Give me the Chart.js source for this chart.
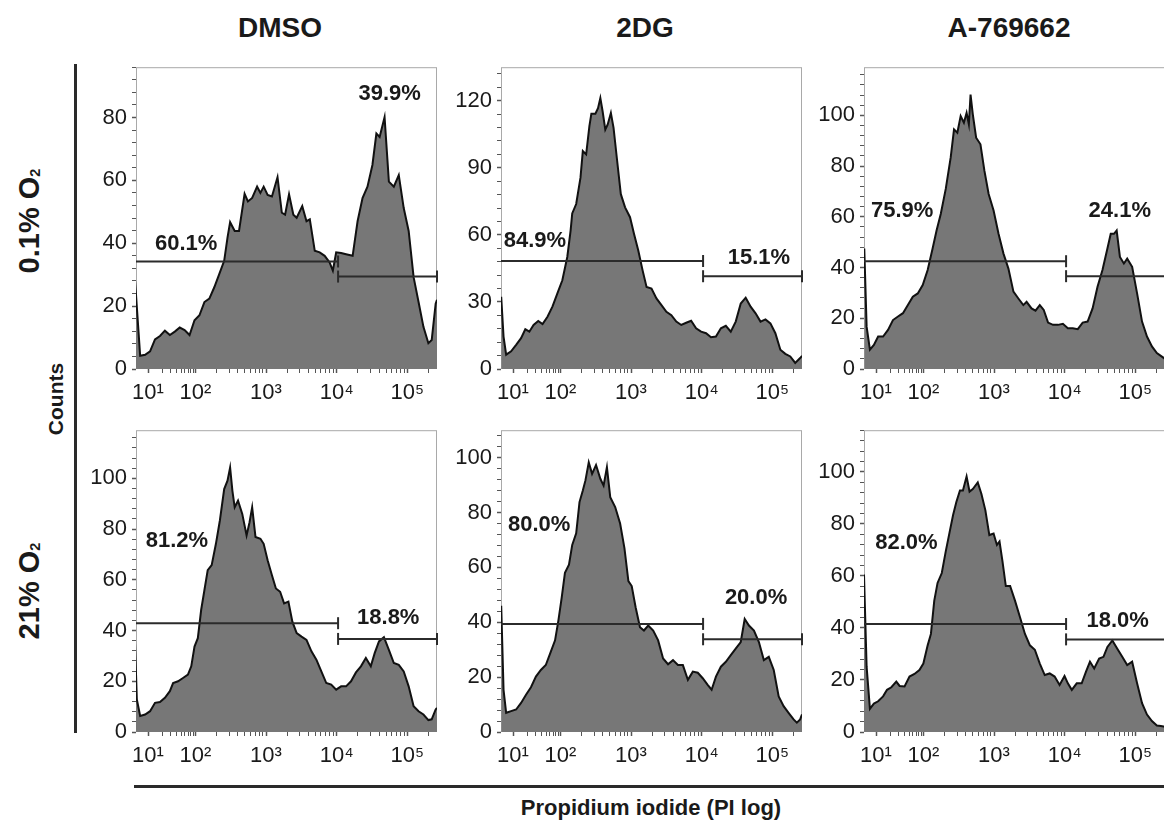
<!DOCTYPE html>
<html>
<head>
  <meta charset="utf-8">
  <title>PI histograms</title>
  <script src="https://cdn.jsdelivr.net/npm/chart.js"></script>
  <style>
    body {
      margin: 0;
      width: 1164px;
      height: 822px;
      overflow: hidden;
      position: relative;
      background: #fff;
      color: #1a1a1a;
      font-family: "Liberation Sans", Arial, sans-serif;
    }
    .panel { position: absolute; }
    .col-title {
      position: absolute;
      top: 12px;
      font-size: 28px;
      font-weight: bold;
      transform: translateX(-50%);
      white-space: nowrap;
    }
    .row-title {
      position: absolute;
      font-size: 29px;
      font-weight: bold;
      white-space: nowrap;
      transform: translate(-50%, -50%) rotate(-90deg);
    }
    .row-title sub { font-size: 50%; vertical-align: -0.1em; }
    .counts {
      position: absolute;
      left: 56px;
      top: 399px;
      font-size: 21px;
      font-weight: bold;
      transform: translate(-50%, -50%) rotate(-90deg);
    }
    .vline { position: absolute; left: 74px; top: 64px; width: 3px; height: 669px; background: #2a2a2a; }
    .hline { position: absolute; left: 134px; top: 785px; width: 1040px; height: 3px; background: #2a2a2a; }
    .x-title {
      position: absolute;
      left: 651px;
      top: 808px;
      font-size: 22px;
      font-weight: bold;
      transform: translate(-50%, -50%);
      white-space: nowrap;
    }
  </style>
</head>
<body>
  <div class="col-title" style="left:280px">DMSO</div>
  <div class="col-title" style="left:645px">2DG</div>
  <div class="col-title" style="left:1009px">A-769662</div>

  <div class="row-title" style="left:29px; top:221px">0.1% O<sub>2</sub></div>
  <div class="row-title" style="left:29px; top:591px">21% O<sub>2</sub></div>
  <div class="counts">Counts</div>
  <div class="vline"></div>
  <div class="hline"></div>
  <div class="x-title">Propidium iodide (PI log)</div>

  <canvas id="c1" class="panel" width="369" height="360" style="left:76px; top:49px"></canvas>
  <canvas id="c2" class="panel" width="369" height="360" style="left:441px; top:49px"></canvas>
  <canvas id="c3" class="panel" width="369" height="360" style="left:804px; top:49px"></canvas>
  <canvas id="c4" class="panel" width="369" height="360" style="left:76px; top:412px"></canvas>
  <canvas id="c5" class="panel" width="369" height="360" style="left:441px; top:412px"></canvas>
  <canvas id="c6" class="panel" width="369" height="360" style="left:804px; top:412px"></canvas>

  <script>
    // x values are positions on the biexponential PI axis, in decades (10^2 -> 2, 10^3 -> 3 ...)
    const xTickPos = [1.33, 2, 3, 4, 5];
    const xTickLabels = ['10\u00b9', '10\u00b2', '10\u00b3', '10\u2074', '10\u2075'];
    const gateSplit = 4.02;

    // DMSO, 0.1% O2
    const dmsoHypX = [1.140,1.219,1.289,1.359,1.429,1.499,1.569,1.639,1.709,1.779,1.848,1.918,1.988,2.058,2.128,2.198,2.268,2.338,2.408,2.455,2.492,2.557,2.618,2.697,2.744,2.804,2.874,2.921,2.967,3.023,3.084,3.163,3.224,3.270,3.326,3.387,3.434,3.513,3.573,3.620,3.690,3.760,3.830,3.900,3.946,3.993,4.063,4.133,4.226,4.296,4.366,4.436,4.506,4.562,4.608,4.678,4.739,4.809,4.879,4.949,5.019,5.089,5.159,5.228,5.298,5.345,5.401,5.42];
    const dmsoHypCounts = [30.2,4.2,4.5,5.6,9.4,10.5,12.2,10.8,11.9,13.2,12.4,10.8,15.5,17.1,21.3,22.4,26.0,30.2,34.4,41.8,46.7,43.9,43.9,55.7,53.3,54.4,58.0,56.0,58.0,55.4,54.9,61.0,49.7,49.1,55.6,49.1,48.1,51.8,47.0,47.6,37.6,37.1,36.0,33.9,31.3,37.1,36.9,36.5,36.0,47.0,54.4,58.0,64.9,74.9,73.8,80.1,59.6,58.0,61.7,51.2,43.9,29.2,21.3,13.4,8.2,9.2,20.8,22.0];
    const dmsoHypGates = [34.2, 29.4];
    const dmsoHypPct = ['60.1%', '39.9%'];
    const dmsoHypPctAt = [[1.87, 39.7], [4.75, 87.5]];

    // 2DG, 0.1% O2
    const dgHypX = [1.163,1.196,1.233,1.303,1.374,1.444,1.504,1.561,1.621,1.687,1.748,1.818,1.888,1.958,2.028,2.098,2.145,2.168,2.224,2.285,2.318,2.365,2.411,2.439,2.496,2.533,2.566,2.598,2.636,2.669,2.715,2.753,2.799,2.856,2.916,2.986,3.043,3.103,3.164,3.220,3.290,3.360,3.431,3.501,3.571,3.641,3.711,3.781,3.851,3.921,3.992,4.062,4.132,4.202,4.272,4.342,4.412,4.482,4.553,4.623,4.693,4.763,4.833,4.903,4.973,5.043,5.114,5.184,5.254,5.324,5.394,5.42];
    const dgHypCounts = [32.3,14.5,6.4,7.9,10.8,13.8,17.8,16.7,19.7,21.5,20.1,23.4,27.9,33.8,39.7,50.1,61.9,69.6,73.8,85.6,97.5,96.0,108.6,114.2,114.2,116.7,121.2,115.3,107.1,109.3,114.5,107.9,94.5,78.2,72.3,67.9,60.4,53.0,44.1,36.7,36.0,31.6,28.6,25.6,24.1,21.2,19.7,20.7,21.6,18.2,16.7,16.0,14.2,14.5,18.2,19.3,16.7,21.2,29.3,31.9,27.9,24.9,21.2,22.2,20.4,16.0,8.6,6.8,5.6,2.7,4.9,5.9];
    const dgHypGates = [48.3, 41.5];
    const dgHypPct = ['84.9%', '15.1%'];
    const dgHypPctAt = [[1.64, 57.5], [4.81, 49.8]];

    // A-769662, 0.1% O2
    const aHypX = [1.164,1.197,1.244,1.300,1.360,1.430,1.500,1.570,1.641,1.711,1.781,1.851,1.921,1.991,2.061,2.131,2.187,2.247,2.317,2.387,2.434,2.481,2.528,2.574,2.612,2.644,2.668,2.700,2.747,2.808,2.864,2.924,2.994,3.064,3.134,3.204,3.275,3.345,3.415,3.461,3.531,3.587,3.648,3.704,3.765,3.835,3.905,3.975,4.045,4.115,4.185,4.255,4.325,4.395,4.465,4.535,4.605,4.652,4.698,4.736,4.782,4.838,4.885,4.955,5.025,5.095,5.165,5.235,5.305,5.361,5.42];
    const aHypCounts = [47.5,16.7,7.6,9.5,12.8,12.8,15.4,19.3,20.7,22.0,25.2,28.5,29.8,33.1,39.0,47.5,54.6,61.2,71.0,83.4,94.5,93.2,99.7,97.1,101.0,96.5,108.2,100.4,91.2,88.6,78.2,69.0,62.5,53.3,45.5,39.6,30.5,27.8,25.2,26.5,23.9,23.0,25.2,23.3,18.3,17.4,17.4,17.8,16.1,16.1,15.7,18.3,18.7,23.9,32.4,39.0,47.5,53.3,53.3,54.6,44.2,41.6,43.5,40.3,29.8,18.7,12.8,8.9,6.3,5.2,4.0];
    const aHypGates = [42.5, 36.6];
    const aHypPct = ['75.9%', '24.1%'];
    const aHypPctAt = [[1.70, 62.2], [4.78, 62.2]];

    // DMSO, 21% O2
    const dmsoNormX = [1.140,1.172,1.219,1.289,1.359,1.429,1.499,1.569,1.639,1.685,1.755,1.825,1.895,1.942,1.988,2.035,2.082,2.128,2.175,2.231,2.291,2.347,2.408,2.455,2.492,2.524,2.557,2.604,2.664,2.725,2.767,2.804,2.851,2.921,2.967,3.023,3.084,3.140,3.200,3.256,3.317,3.373,3.434,3.503,3.573,3.643,3.713,3.783,3.853,3.923,3.993,4.063,4.133,4.203,4.273,4.343,4.413,4.483,4.538,4.599,4.669,4.739,4.809,4.879,4.949,5.019,5.089,5.159,5.228,5.298,5.345,5.401,5.42];
    const dmsoNormCounts = [40.3,12.8,6.3,6.9,8.2,11.5,11.8,13.5,16.1,19.3,20.0,21.3,22.6,25.9,33.7,37.0,48.1,55.9,63.8,65.8,74.2,83.4,95.8,99.1,104.3,95.2,88.6,91.2,86.0,77.5,82.7,88.6,76.9,76.2,74.2,67.7,61.8,56.6,55.3,50.7,51.4,43.5,39.0,37.6,36.3,31.8,28.5,23.9,19.3,18.7,16.7,18.0,18.0,20.0,23.5,25.9,29.2,25.9,31.1,35.7,37.4,32.4,27.2,26.5,23.9,18.0,10.2,8.2,6.9,4.7,5.0,8.9,9.5];
    const dmsoNormGates = [42.9, 36.7];
    const dmsoNormPct = ['81.2%', '18.8%'];
    const dmsoNormPctAt = [[1.74, 75.3], [4.73, 44.8]];

    // 2DG, 21% O2
    const dgNormX = [1.163,1.196,1.233,1.303,1.374,1.444,1.514,1.584,1.654,1.724,1.794,1.864,1.925,1.972,2.019,2.065,2.122,2.168,2.224,2.271,2.318,2.355,2.402,2.449,2.505,2.566,2.612,2.659,2.706,2.776,2.846,2.907,2.963,3.010,3.066,3.127,3.183,3.244,3.314,3.384,3.454,3.524,3.594,3.664,3.734,3.805,3.875,3.945,4.015,4.085,4.141,4.202,4.272,4.342,4.412,4.482,4.553,4.609,4.669,4.740,4.810,4.880,4.950,5.020,5.090,5.160,5.230,5.301,5.347,5.394,5.42];
    const dgNormCounts = [46.0,15.4,7.0,7.6,8.2,10.6,13.6,16.3,20.2,22.6,24.4,29.2,33.4,40.6,49.0,58.0,61.0,68.2,72.4,83.8,88.0,91.7,98.3,94.1,97.3,92.3,89.8,96.5,85.6,82.0,76.0,67.0,55.0,53.2,45.4,38.2,37.0,38.8,37.0,33.4,26.8,24.7,26.2,24.4,24.4,19.0,22.0,21.6,19.6,17.2,15.4,20.2,23.8,25.6,28.0,30.4,32.8,41.2,38.8,37.0,32.8,26.2,27.4,22.6,13.0,9.4,7.0,4.6,3.4,4.6,6.4];
    const dgNormGates = [39.4, 33.8];
    const dgNormPct = ['80.0%', '20.0%'];
    const dgNormPctAt = [[1.70, 75.4], [4.77, 48.8]];

    // A-769662, 21% O2
    const aNormX = [1.160,1.197,1.244,1.300,1.360,1.430,1.486,1.547,1.617,1.664,1.734,1.804,1.874,1.944,2.000,2.061,2.107,2.154,2.201,2.261,2.317,2.373,2.420,2.467,2.518,2.560,2.612,2.654,2.700,2.770,2.822,2.878,2.934,2.994,3.041,3.078,3.120,3.167,3.228,3.298,3.368,3.438,3.508,3.578,3.648,3.718,3.788,3.858,3.928,3.998,4.045,4.101,4.171,4.241,4.302,4.358,4.418,4.488,4.549,4.605,4.675,4.745,4.815,4.885,4.955,5.025,5.095,5.165,5.235,5.305,5.361,5.42];
    const aNormCounts = [60.5,25.1,8.9,10.9,11.8,13.7,16.2,17.2,19.4,17.7,17.5,21.3,22.3,23.8,26.3,33.3,37.7,50.4,57.3,61.1,69.4,77.0,83.3,88.4,92.8,92.8,98.2,92.4,93.4,95.9,91.5,85.2,75.7,76.3,71.9,73.2,65.6,56.1,56.1,50.4,44.1,37.7,33.3,31.6,26.3,21.9,22.5,21.3,18.1,21.5,18.7,16.2,18.7,18.7,23.2,27.0,24.4,28.2,28.9,32.7,35.2,32.0,28.9,25.7,27.0,18.7,11.1,6.7,4.2,2.5,2.3,2.0];
    const aNormGates = [41.5, 35.6];
    const aNormPct = ['82.0%', '18.0%'];
    const aNormPctAt = [[1.76, 72.5], [4.75, 42.8]];

    const yMax = [96, 135, 119, 119, 110, 116];
    const yStep = [20, 30, 20, 20, 20, 20];

    const FONT = '"Liberation Sans", Arial, sans-serif';
    const X_MIN = 1.16, X_MAX = 5.42;

    // minor log ticks; the 10^1..10^2 stretch is compressed on this axis
    const xMinor = [];
    for (let m = 2; m <= 9; m++) xMinor.push(1.33 + 0.67 * Math.log10(m));
    for (let k = 2; k <= 5; k++) {
      for (let m = 2; m <= 9; m++) {
        const v = k + Math.log10(m);
        if (v < X_MAX) xMinor.push(v);
      }
    }

    const frame = {
      id: 'frame',
      beforeDatasetsDraw(chart) {
        const a = chart.chartArea, ctx = chart.ctx;
        ctx.save();
        ctx.strokeStyle = '#a9a9a9';
        ctx.lineWidth = 1;
        ctx.strokeRect(a.left + 0.5, a.top + 0.5, a.right - a.left - 1, a.bottom - a.top - 1);
        ctx.restore();
      },
      afterDatasetsDraw(chart, args, opts) {
        const ctx = chart.ctx, xs = chart.scales.x, ys = chart.scales.y;
        ctx.save();
        ctx.font = 'bold 22px ' + FONT;
        ctx.fillStyle = '#1a1a1a';
        ctx.textAlign = 'center';
        ctx.textBaseline = 'middle';
        opts.labels.forEach((t, i) => {
          ctx.fillText(t, xs.getPixelForValue(opts.at[i][0]), ys.getPixelForValue(opts.at[i][1]));
        });
        ctx.restore();
      }
    };

    function makePanel(id, xs, counts, gates, pct, pctAt, ymax, step) {
      const minor = step / 5;
      const pts = xs.map((x, i) => ({ x: x, y: counts[i] }));
      const capped = (ctx) => ctx.dataIndex === 0 && ctx.datasetIndex === 0 ? 0 : 6;

      new Chart(document.getElementById(id), {
        type: 'line',
        data: {
          datasets: [
            {
              data: [{ x: X_MIN, y: gates[0] }, { x: gateSplit, y: gates[0] }],
              borderColor: '#2b2b2b', borderWidth: 2, fill: false,
              pointStyle: 'line', rotation: 90, pointRadius: capped,
              pointBorderColor: '#2b2b2b', pointBorderWidth: 2, clip: false, order: 0
            },
            {
              data: [{ x: gateSplit, y: gates[1] }, { x: X_MAX, y: gates[1] }],
              borderColor: '#2b2b2b', borderWidth: 2, fill: false,
              pointStyle: 'line', rotation: 90, pointRadius: capped,
              pointBorderColor: '#2b2b2b', pointBorderWidth: 2, clip: false, order: 0
            },
            {
              data: pts,
              borderColor: '#111', borderWidth: 2,
              backgroundColor: '#777777', fill: 'origin',
              pointRadius: 0, tension: 0, order: 1
            }
          ]
        },
        options: {
          responsive: false,
          animation: false,
          events: [],
          layout: { padding: { top: 16, right: 4, left: 0, bottom: 0 } },
          plugins: {
            legend: { display: false },
            tooltip: { enabled: false },
            frame: { labels: pct, at: pctAt }
          },
          scales: {
            x: {
              type: 'linear',
              min: X_MIN,
              max: X_MAX,
              afterBuildTicks: s => {
                const t = xTickPos.map(v => ({ value: v, major: true }))
                  .concat(xMinor.map(v => ({ value: v })));
                t.sort((a, b) => a.value - b.value);
                s.ticks = t;
              },
              afterFit: s => { s.height = 40; },
              ticks: {
                autoSkip: false,
                maxRotation: 0,
                padding: 7,
                color: '#1a1a1a',
                font: { size: 22, family: FONT },
                callback: v => {
                  const i = xTickPos.findIndex(p => Math.abs(p - v) < 1e-6);
                  return i >= 0 ? xTickLabels[i] : '';
                }
              },
              grid: {
                drawOnChartArea: false,
                tickLength: 4,
                color: '#555',
                tickWidth: c => (c.tick && c.tick.major) ? 1.5 : 1
              },
              border: { display: false }
            },
            y: {
              type: 'linear',
              min: 0,
              max: ymax,
              afterBuildTicks: s => {
                const t = [];
                for (let v = 0; v <= ymax; v += minor) t.push({ value: v });
                s.ticks = t;
              },
              afterFit: s => { s.width = 60; },
              ticks: {
                autoSkip: false,
                padding: 5,
                color: '#1a1a1a',
                font: { size: 22, family: FONT },
                callback: v => (v % step === 0 ? String(v) : '')
              },
              grid: {
                drawOnChartArea: false,
                tickLength: 4,
                color: '#555',
                tickWidth: c => (c.tick && c.tick.value % step === 0) ? 1.5 : 1
              },
              border: { display: false }
            }
          }
        },
        plugins: [frame]
      });
    }

    makePanel('c1', dmsoHypX, dmsoHypCounts, dmsoHypGates, dmsoHypPct, dmsoHypPctAt, yMax[0], yStep[0]);
    makePanel('c2', dgHypX, dgHypCounts, dgHypGates, dgHypPct, dgHypPctAt, yMax[1], yStep[1]);
    makePanel('c3', aHypX, aHypCounts, aHypGates, aHypPct, aHypPctAt, yMax[2], yStep[2]);
    makePanel('c4', dmsoNormX, dmsoNormCounts, dmsoNormGates, dmsoNormPct, dmsoNormPctAt, yMax[3], yStep[3]);
    makePanel('c5', dgNormX, dgNormCounts, dgNormGates, dgNormPct, dgNormPctAt, yMax[4], yStep[4]);
    makePanel('c6', aNormX, aNormCounts, aNormGates, aNormPct, aNormPctAt, yMax[5], yStep[5]);
  </script>
</body>
</html>
